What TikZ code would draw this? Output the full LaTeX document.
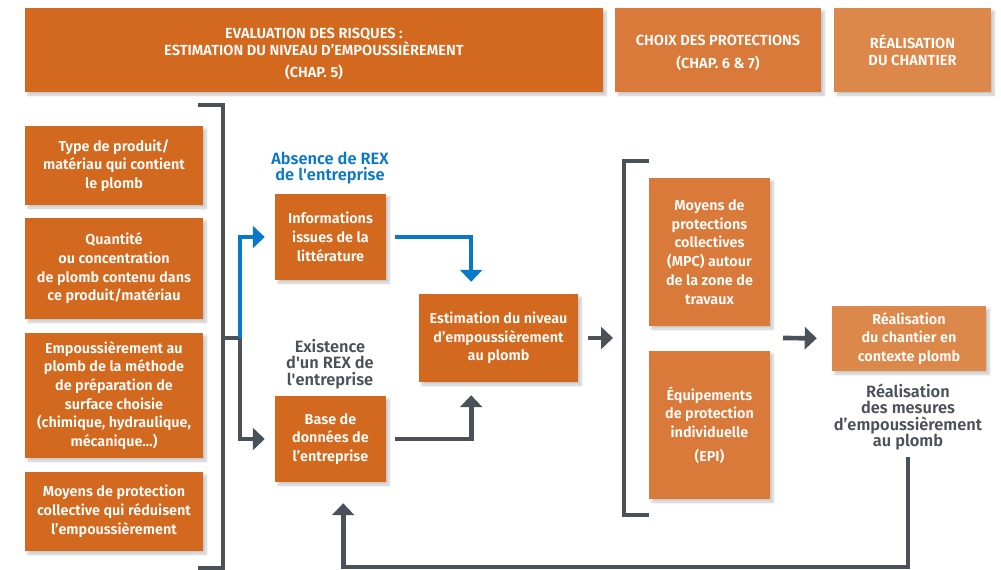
\documentclass[tikz,border=0pt]{standalone}
\usepackage{fontspec}
\setmainfont{Fira Sans}[BoldFont={Fira Sans SemiBold}]
\usepackage{tikz}
\usetikzlibrary{positioning,arrows.meta,calc,shadows.blur}
\definecolor{evalcol}{HTML}{D2691E}
\definecolor{protcol}{HTML}{D97A3A}
\definecolor{realcol}{HTML}{DD884B}
\definecolor{rexcol}{HTML}{0A78C8}
\definecolor{linecol}{HTML}{4B5158}

\begin{document}
\begin{tikzpicture}[
   x=0.3mm, y=-0.3mm,
   font=\bfseries,
   box/.style={fill=#1,text=white,align=center,inner sep=2pt,
               font=\fontsize{12.3}{16}\selectfont\bfseries,
               blur shadow={shadow xshift=0.9mm,shadow yshift=-0.9mm,
                            shadow blur steps=6,shadow opacity=22}},
   head/.style={box=#1,font=\fontsize{12.5}{14.5}\selectfont\bfseries},
   note/.style={text=#1,align=center,inner sep=0pt,
                font=\fontsize{14}{14}\selectfont\bfseries},
   gline/.style={draw=linecol,line width=1.4mm},
   bline/.style={draw=rexcol,line width=1.3mm},
   >={Triangle[length=3.6mm,width=6.6mm]},
]
\useasboundingbox (0,0) rectangle (1001,570);

% headers
\node[head=evalcol,minimum width=17.34cm,minimum height=2.52cm] (hdeval) at (314,50)
        {\rule{0pt}{15.6pt}EVALUATION DES RISQUES :\\ESTIMATION DU NIVEAU D’EMPOUSSIÈREMENT\\[5pt](CHAP. 5)};
\node[head=protcol,minimum width=6.18cm,minimum height=2.52cm] (hdprot) at (718,50)
        {\rule{0pt}{14pt}CHOIX DES PROTECTIONS\\[5pt](CHAP. 6 \& 7)};
\node[head=realcol,minimum width=4.71cm,minimum height=2.52cm] (hdreal) at (912.5,50)
        {RÉALISATION\\DU CHANTIER};

% input factors
\node[box=evalcol,minimum width=5.34cm,minimum height=2.37cm] (type) at (114,165.5)
        {Type de produit/\\matériau qui contient\\le plomb};
\node[box=evalcol,minimum width=5.34cm,minimum height=3.03cm] (qte) at (114,268.5)
        {Quantité\\ou concentration\\de plomb contenu dans\\ce produit/matériau};
\node[box=evalcol,minimum width=5.34cm,minimum height=3.75cm] (meth) at (114,395.5)
        {Empoussièrement au\\plomb de la méthode\\de préparation de\\surface choisie\\(chimique, hydraulique,\\mécanique...)};
\node[box=evalcol,minimum width=5.34cm,minimum height=2.37cm] (mpcin) at (114,511.5)
        {Moyens de protection\\collective qui réduisent\\l’empoussièrement};

% sources
\node[box=evalcol,minimum width=3.33cm,minimum height=2.58cm] (info) at (330.5,237)
        {Informations\\issues de la\\littérature};
\node[box=evalcol,minimum width=3.33cm,minimum height=2.58cm] (base) at (330.5,439)
        {Base de\\données de\\l’entreprise};
\node[note=rexcol] (absence) at (330,168) {Absence de REX\\de l\textquotesingle entreprise};
\node[note=linecol] (exist) at (330,364) {Existence\\d\textquotesingle un REX de\\l\textquotesingle entreprise};
\node[box=evalcol,minimum width=4.77cm,minimum height=2.64cm] (est) at (498.5,338)
        {Estimation du niveau\\d’empoussièrement\\au plomb};

% protections
\node[box=protcol,minimum width=3.63cm,minimum height=4.44cm] (mpc) at (709.5,252)
        {Moyens de\\protections\\collectives\\(MPC) autour\\de la zone de\\travaux};
\node[box=protcol,minimum width=3.63cm,minimum height=4.44cm] (epi) at (709.5,425)
        {Équipements\\de protection\\individuelle\\[4pt](EPI)};

% chantier
\node[box=realcol,minimum width=4.62cm,minimum height=1.95cm] (real) at (909,338.5)
        {Réalisation\\du chantier en\\contexte plomb};
\node[note=linecol] (mesures) at (908,417)
        {Réalisation\\des mesures\\d’empoussièrement\\au plomb};

% brackets
\draw[gline] (198,105) -- (223,105) -- (223,568) -- (198,568);
\draw[gline] (649,161) -- (624,161) -- (624,515) -- (649,515);
\coordinate (br1) at (223,338);
\coordinate (split) at (240,338);
\coordinate (br2) at (624,338);
\coordinate (br2out) at (783,338);
\coordinate (loop) at (908,457);
\coordinate (corner) at (908,567);

% arrows
\draw[gline] (br1) -- (split);
\draw[bline,->,shorten >=3mm] (split) |- (info.west);
\draw[gline,->,shorten >=3mm] (split) |- (base.west);
\draw[bline,->,shorten <=2.7mm,shorten >=3.6mm] (info.east) -| ([xshift=-8.2mm]est.north);
\draw[gline,->,shorten <=2.7mm,shorten >=3.9mm] (base.east) -| ([xshift=-8.2mm]est.south);
\draw[gline,->,shorten <=3mm,shorten >=3.3mm] (est.east) -- (br2);
\draw[gline,->,shorten >=4.5mm] (br2out) -- (real.west);
\draw[gline,->,shorten >=6.3mm] (loop) -- (corner) -| ([xshift=3.8mm]base.south);

\end{tikzpicture}
\end{document}
